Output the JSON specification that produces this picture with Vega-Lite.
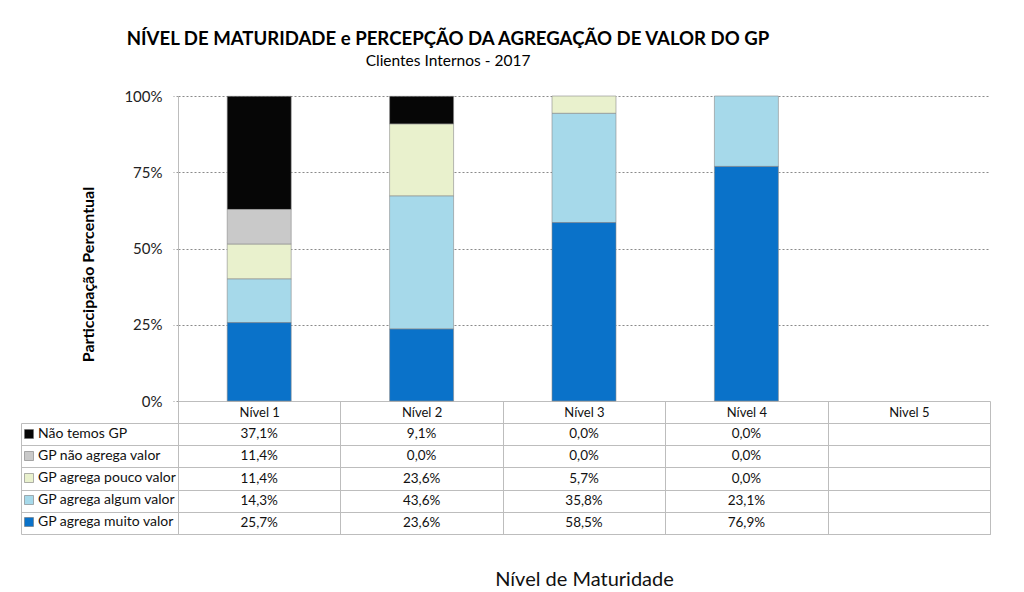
{
  "$schema": "https://vega.github.io/schema/vega-lite/v6.json",
  "padding": {"left": 20, "top": 29, "right": 33, "bottom": 4},
  "background": "white",
  "title": {
    "text": "NÍVEL DE MATURIDADE e PERCEPÇÃO DA AGREGAÇÃO DE VALOR DO GP",
    "subtitle": "Clientes Internos - 2017",
    "anchor": "middle",
    "frame": "group",
    "dx": -136,
    "font": "Lato",
    "fontSize": 18.6,
    "fontWeight": "bold",
    "color": "#000000",
    "subtitleFont": "Lato",
    "subtitleFontSize": 15.5,
    "subtitleColor": "#000000",
    "subtitlePadding": 5,
    "offset": 20
  },
  "datasets": {
    "dados": [
      {"nivel": "Nível 1", "serie": "Não temos GP", "ordem": 5, "pct": 0.371},
      {"nivel": "Nível 1", "serie": "GP não agrega valor", "ordem": 4, "pct": 0.114},
      {"nivel": "Nível 1", "serie": "GP agrega pouco valor", "ordem": 3, "pct": 0.114},
      {"nivel": "Nível 1", "serie": "GP agrega algum valor", "ordem": 2, "pct": 0.143},
      {"nivel": "Nível 1", "serie": "GP agrega muito valor", "ordem": 1, "pct": 0.257},
      {"nivel": "Nível 2", "serie": "Não temos GP", "ordem": 5, "pct": 0.091},
      {"nivel": "Nível 2", "serie": "GP não agrega valor", "ordem": 4, "pct": 0.0},
      {"nivel": "Nível 2", "serie": "GP agrega pouco valor", "ordem": 3, "pct": 0.236},
      {"nivel": "Nível 2", "serie": "GP agrega algum valor", "ordem": 2, "pct": 0.436},
      {"nivel": "Nível 2", "serie": "GP agrega muito valor", "ordem": 1, "pct": 0.236},
      {"nivel": "Nível 3", "serie": "Não temos GP", "ordem": 5, "pct": 0.0},
      {"nivel": "Nível 3", "serie": "GP não agrega valor", "ordem": 4, "pct": 0.0},
      {"nivel": "Nível 3", "serie": "GP agrega pouco valor", "ordem": 3, "pct": 0.057},
      {"nivel": "Nível 3", "serie": "GP agrega algum valor", "ordem": 2, "pct": 0.358},
      {"nivel": "Nível 3", "serie": "GP agrega muito valor", "ordem": 1, "pct": 0.585},
      {"nivel": "Nível 4", "serie": "Não temos GP", "ordem": 5, "pct": 0.0},
      {"nivel": "Nível 4", "serie": "GP não agrega valor", "ordem": 4, "pct": 0.0},
      {"nivel": "Nível 4", "serie": "GP agrega pouco valor", "ordem": 3, "pct": 0.0},
      {"nivel": "Nível 4", "serie": "GP agrega algum valor", "ordem": 2, "pct": 0.231},
      {"nivel": "Nível 4", "serie": "GP agrega muito valor", "ordem": 1, "pct": 0.769}
    ]
  },
  "spacing": 22,
  "bounds": "flush",
  "resolve": {"legend": {"color": "independent"}},
  "vconcat": [
    {
      "width": 812,
      "height": 305,
      "data": {"name": "dados"},
      "transform": [{"filter": "datum.pct > 0"}],
      "mark": {"type": "bar", "width": {"band": 0.394}, "stroke": "#8a8a8a", "strokeOpacity": 0.6, "strokeWidth": 1},
      "encoding": {
        "x": {
          "field": "nivel",
          "type": "nominal",
          "scale": {"domain": ["Nível 1", "Nível 2", "Nível 3", "Nível 4", "Nivel 5"], "paddingInner": 0, "paddingOuter": 0},
          "axis": {
            "title": null,
            "orient": "bottom",
            "tickBand": "extent",
            "tickSize": 22,
            "tickColor": "#bdbdbd",
            "domainColor": "#bdbdbd",
            "labelPadding": -17,
            "labelBaseline": "top",
            "labelFont": "Lato",
            "labelFontSize": 13,
            "labelColor": "#111111",
            "labelAngle": 0
          }
        },
        "y": {
          "field": "pct",
          "type": "quantitative",
          "stack": "zero",
          "scale": {"domain": [0, 1], "nice": false},
          "axis": {
            "title": "Particcipação Percentual",
            "titleFont": "Lato",
            "titleFontSize": 16,
            "titleFontWeight": "bold",
            "titleColor": "#000000",
            "titlePadding": 27,
            "titleY": 178,
            "values": [0, 0.25, 0.5, 0.75, 1],
            "format": ".0%",
            "labelFont": "Lato",
            "labelFontSize": 15,
            "labelColor": "#222222",
            "labelPadding": 11,
            "tickSize": 5,
            "tickColor": "#999999",
            "tickDash": [2, 2],
            "domainColor": "#bdbdbd",
            "grid": true,
            "gridColor": "#8a8a8a",
            "gridDash": [2, 2],
            "gridOpacity": {"condition": {"test": "datum.value === 0", "value": 0}, "value": 1}
          }
        },
        "color": {
          "field": "serie",
          "type": "nominal",
          "scale": {
            "domain": ["Não temos GP", "GP não agrega valor", "GP agrega pouco valor", "GP agrega algum valor", "GP agrega muito valor"],
            "range": ["#060606", "#c9c9c9", "#e9f1cd", "#a6d9ea", "#0a72c9"]
          },
          "legend": {
            "title": null,
            "orient": "none",
            "legendX": -156,
            "legendY": 331,
            "padding": 0,
            "symbolType": "square",
            "symbolSize": 81,
            "symbolStrokeWidth": 0.5,
            "symbolStrokeColor": "#666666",
            "labelFont": "Lato",
            "labelFontSize": 14,
            "labelColor": "#111111",
            "labelOffset": 2,
            "rowPadding": 8
          }
        },
        "order": {"field": "ordem", "type": "quantitative", "sort": "ascending"}
      },
      "view": {"stroke": null}
    },
    {
      "width": 812,
      "height": 111,
      "data": {"name": "dados"},
      "mark": {"type": "text", "font": "Lato", "fontSize": 13.5, "color": "#111111"},
      "encoding": {
        "x": {
          "field": "nivel",
          "type": "nominal",
          "scale": {"domain": ["Nível 1", "Nível 2", "Nível 3", "Nível 4", "Nivel 5"], "paddingInner": 0, "paddingOuter": 0},
          "axis": {
            "title": "Nível de Maturidade",
            "titleFont": "Lato",
            "titleFontSize": 20,
            "titleFontWeight": "normal",
            "titleColor": "#111111",
            "titlePadding": 35,
            "labels": false,
            "ticks": false,
            "domain": false,
            "grid": true,
            "tickBand": "extent",
            "gridColor": "#bdbdbd"
          }
        },
        "y": {
          "field": "serie",
          "type": "nominal",
          "scale": {"domain": ["Não temos GP", "GP não agrega valor", "GP agrega pouco valor", "GP agrega algum valor", "GP agrega muito valor"], "paddingInner": 0, "paddingOuter": 0},
          "axis": {
            "title": null,
            "orient": "left",
            "offset": 157,
            "labels": false,
            "tickBand": "extent",
            "tickSize": -157,
            "tickColor": "#bdbdbd",
            "domainColor": "#bdbdbd",
            "grid": true,
            "gridColor": "#bdbdbd"
          }
        },
        "text": {"field": "pct", "type": "quantitative", "format": ".1%"}
      },
      "view": {"stroke": "#bdbdbd"}
    }
  ],
  "config": {
    "locale": {"number": {"decimal": ",", "thousands": ".", "grouping": [3], "currency": ["R$", ""]}},
    "font": "Lato"
  }
}
